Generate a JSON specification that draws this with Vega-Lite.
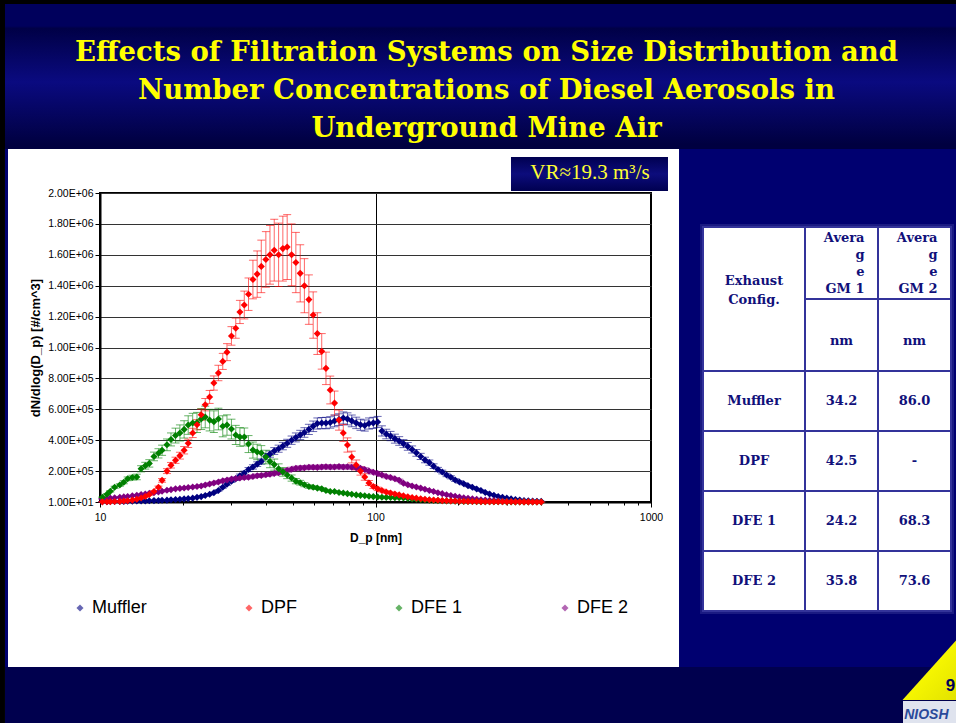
{
"$schema": "https://vega.github.io/schema/vega-lite/v6.json",
"width": 551,
"height": 309,
"autosize": {"type": "none"},
"padding": {"left": 100, "top": 193, "right": 305, "bottom": 221},
"background": "white",
"title": {
  "text": ["Effects of Filtration Systems on Size Distribution and", "Number Concentrations of Diesel Aerosols in", "Underground Mine Air"],
  "font": "DejaVu Serif", "fontSize": 27.5, "fontWeight": "bold", "color": "#ffff00",
  "lineHeight": 38, "anchor": "middle", "frame": "group", "dx": 111, "offset": -143
},
"config": {
  "font": "Liberation Sans",
  "view": {"stroke": "black", "strokeWidth": 2}
},
"resolve": {"scale": {"x": "independent", "y": "independent"}},
"layer": [
 {
  "data": {"values": [
{"s":"Muffler","d":10.2,"v":2000,"e":200},{"s":"Muffler","d":10.6,"v":2000,"e":200},{"s":"Muffler","d":10.9,"v":3000,"e":300},{"s":"Muffler","d":11.3,"v":3000,"e":300},{"s":"Muffler","d":11.8,"v":4000,"e":400},{"s":"Muffler","d":12.2,"v":4000,"e":400},{"s":"Muffler","d":12.6,"v":5000,"e":500},{"s":"Muffler","d":13.1,"v":5000,"e":500},{"s":"Muffler","d":13.6,"v":6000,"e":600},{"s":"Muffler","d":14.1,"v":6000,"e":600},{"s":"Muffler","d":14.6,"v":7000,"e":700},{"s":"Muffler","d":15.1,"v":8000,"e":800},{"s":"Muffler","d":15.7,"v":9000,"e":900},{"s":"Muffler","d":16.3,"v":10000,"e":1000},{"s":"Muffler","d":16.8,"v":11000,"e":1000},{"s":"Muffler","d":17.5,"v":12000,"e":1000},{"s":"Muffler","d":18.1,"v":14000,"e":1000},{"s":"Muffler","d":18.8,"v":16000,"e":1500},{"s":"Muffler","d":19.5,"v":18000,"e":1500},{"s":"Muffler","d":20.2,"v":20000,"e":2000},{"s":"Muffler","d":20.9,"v":22000,"e":2000},{"s":"Muffler","d":21.7,"v":25000,"e":2000},{"s":"Muffler","d":22.5,"v":30000,"e":2500},{"s":"Muffler","d":23.3,"v":35000,"e":3000},{"s":"Muffler","d":24.1,"v":42000,"e":3000},{"s":"Muffler","d":25.0,"v":50000,"e":4000},{"s":"Muffler","d":25.9,"v":60000,"e":4000},{"s":"Muffler","d":26.9,"v":75000,"e":5000},{"s":"Muffler","d":27.9,"v":95000,"e":6000},{"s":"Muffler","d":28.9,"v":115000,"e":7000},{"s":"Muffler","d":30.0,"v":135000,"e":9000},{"s":"Muffler","d":31.1,"v":150000,"e":10000},{"s":"Muffler","d":32.2,"v":170000,"e":11000},{"s":"Muffler","d":33.4,"v":188000,"e":12000},{"s":"Muffler","d":34.6,"v":210000,"e":13000},{"s":"Muffler","d":35.9,"v":227000,"e":14000},{"s":"Muffler","d":37.2,"v":245000,"e":15000},{"s":"Muffler","d":38.5,"v":262000,"e":17000},{"s":"Muffler","d":40.0,"v":295000,"e":19000},{"s":"Muffler","d":41.4,"v":310000,"e":20000},{"s":"Muffler","d":42.9,"v":330000,"e":22000},{"s":"Muffler","d":44.5,"v":345000,"e":23000},{"s":"Muffler","d":46.1,"v":362000,"e":24000},{"s":"Muffler","d":47.8,"v":380000,"e":26000},{"s":"Muffler","d":49.6,"v":400000,"e":27000},{"s":"Muffler","d":51.4,"v":418000,"e":29000},{"s":"Muffler","d":53.3,"v":434000,"e":30000},{"s":"Muffler","d":55.2,"v":450000,"e":31000},{"s":"Muffler","d":57.3,"v":470000,"e":33000},{"s":"Muffler","d":59.4,"v":490000,"e":34000},{"s":"Muffler","d":61.5,"v":508000,"e":36000},{"s":"Muffler","d":63.8,"v":511000,"e":36000},{"s":"Muffler","d":66.1,"v":511000,"e":37000},{"s":"Muffler","d":68.5,"v":515000,"e":37000},{"s":"Muffler","d":71.0,"v":525000,"e":38000},{"s":"Muffler","d":73.7,"v":533000,"e":38000},{"s":"Muffler","d":76.4,"v":544000,"e":39000},{"s":"Muffler","d":79.1,"v":538000,"e":39000},{"s":"Muffler","d":82.0,"v":525000,"e":38000},{"s":"Muffler","d":85.1,"v":512000,"e":37000},{"s":"Muffler","d":88.2,"v":500000,"e":36000},{"s":"Muffler","d":91.4,"v":495000,"e":36000},{"s":"Muffler","d":94.7,"v":508000,"e":36000},{"s":"Muffler","d":98.2,"v":512000,"e":36000},{"s":"Muffler","d":101.8,"v":518000,"e":36000},{"s":"Muffler","d":105.5,"v":460000,"e":33000},{"s":"Muffler","d":109.4,"v":440000,"e":31000},{"s":"Muffler","d":113.4,"v":427000,"e":30000},{"s":"Muffler","d":117.6,"v":410000,"e":29000},{"s":"Muffler","d":121.9,"v":395000,"e":28000},{"s":"Muffler","d":126.3,"v":378000,"e":26000},{"s":"Muffler","d":131.0,"v":360000,"e":25000},{"s":"Muffler","d":135.8,"v":340000,"e":23000},{"s":"Muffler","d":140.7,"v":318000,"e":22000},{"s":"Muffler","d":145.9,"v":295000,"e":20000},{"s":"Muffler","d":151.2,"v":272000,"e":18000},{"s":"Muffler","d":156.8,"v":255000,"e":17000},{"s":"Muffler","d":162.5,"v":232000,"e":15000},{"s":"Muffler","d":168.5,"v":210000,"e":14000},{"s":"Muffler","d":174.7,"v":194000,"e":12000},{"s":"Muffler","d":181.1,"v":175000,"e":11000},{"s":"Muffler","d":187.7,"v":160000,"e":10000},{"s":"Muffler","d":194.6,"v":142000,"e":9000},{"s":"Muffler","d":201.7,"v":130000,"e":8000},{"s":"Muffler","d":209.1,"v":118000,"e":7000},{"s":"Muffler","d":216.7,"v":105000,"e":6000},{"s":"Muffler","d":224.7,"v":95000,"e":5000},{"s":"Muffler","d":232.9,"v":84000,"e":5000},{"s":"Muffler","d":241.4,"v":74000,"e":4000},{"s":"Muffler","d":250.3,"v":62000,"e":4000},{"s":"Muffler","d":259.5,"v":52000,"e":3000},{"s":"Muffler","d":269.0,"v":44000,"e":3000},{"s":"Muffler","d":278.8,"v":36000,"e":2000},{"s":"Muffler","d":289.0,"v":30000,"e":2000},{"s":"Muffler","d":299.6,"v":25000,"e":1500},{"s":"Muffler","d":310.6,"v":20000,"e":1200},{"s":"Muffler","d":322.0,"v":16000,"e":1000},{"s":"Muffler","d":333.8,"v":13000,"e":800},{"s":"Muffler","d":346.0,"v":10000,"e":600},{"s":"Muffler","d":358.7,"v":8000,"e":500},{"s":"Muffler","d":371.8,"v":6000,"e":400},{"s":"Muffler","d":385.4,"v":5000,"e":300},{"s":"Muffler","d":399.5,"v":4000,"e":300},
{"s":"DFE 2","d":10.2,"v":20000,"e":1500},{"s":"DFE 2","d":10.6,"v":22000,"e":1500},{"s":"DFE 2","d":10.9,"v":25000,"e":2000},{"s":"DFE 2","d":11.3,"v":28000,"e":2000},{"s":"DFE 2","d":11.8,"v":30000,"e":2000},{"s":"DFE 2","d":12.2,"v":33000,"e":2000},{"s":"DFE 2","d":12.6,"v":36000,"e":2500},{"s":"DFE 2","d":13.1,"v":40000,"e":2500},{"s":"DFE 2","d":13.6,"v":44000,"e":3000},{"s":"DFE 2","d":14.1,"v":48000,"e":3000},{"s":"DFE 2","d":14.6,"v":52000,"e":3000},{"s":"DFE 2","d":15.1,"v":56000,"e":3500},{"s":"DFE 2","d":15.7,"v":60000,"e":4000},{"s":"DFE 2","d":16.3,"v":65000,"e":4000},{"s":"DFE 2","d":16.8,"v":70000,"e":4500},{"s":"DFE 2","d":17.5,"v":76000,"e":5000},{"s":"DFE 2","d":18.1,"v":80000,"e":5000},{"s":"DFE 2","d":18.8,"v":85000,"e":5000},{"s":"DFE 2","d":19.5,"v":88000,"e":5500},{"s":"DFE 2","d":20.2,"v":91000,"e":6000},{"s":"DFE 2","d":20.9,"v":94000,"e":6000},{"s":"DFE 2","d":21.7,"v":97000,"e":6000},{"s":"DFE 2","d":22.5,"v":100000,"e":6500},{"s":"DFE 2","d":23.3,"v":104000,"e":7000},{"s":"DFE 2","d":24.1,"v":110000,"e":7000},{"s":"DFE 2","d":25.0,"v":117000,"e":7500},{"s":"DFE 2","d":25.9,"v":123000,"e":8000},{"s":"DFE 2","d":26.9,"v":130000,"e":8000},{"s":"DFE 2","d":27.9,"v":137000,"e":9000},{"s":"DFE 2","d":28.9,"v":142000,"e":9000},{"s":"DFE 2","d":30.0,"v":148000,"e":9000},{"s":"DFE 2","d":31.1,"v":152000,"e":10000},{"s":"DFE 2","d":32.2,"v":155000,"e":10000},{"s":"DFE 2","d":33.4,"v":158000,"e":10000},{"s":"DFE 2","d":34.6,"v":160000,"e":10000},{"s":"DFE 2","d":35.9,"v":165000,"e":10000},{"s":"DFE 2","d":37.2,"v":170000,"e":11000},{"s":"DFE 2","d":38.5,"v":172000,"e":11000},{"s":"DFE 2","d":40.0,"v":176000,"e":11000},{"s":"DFE 2","d":41.4,"v":180000,"e":11000},{"s":"DFE 2","d":42.9,"v":185000,"e":12000},{"s":"DFE 2","d":44.5,"v":190000,"e":12000},{"s":"DFE 2","d":46.1,"v":197000,"e":12000},{"s":"DFE 2","d":47.8,"v":205000,"e":12000},{"s":"DFE 2","d":49.6,"v":212000,"e":13000},{"s":"DFE 2","d":51.4,"v":218000,"e":13000},{"s":"DFE 2","d":53.3,"v":220000,"e":13000},{"s":"DFE 2","d":55.2,"v":222000,"e":13000},{"s":"DFE 2","d":57.3,"v":225000,"e":13000},{"s":"DFE 2","d":59.4,"v":225000,"e":13000},{"s":"DFE 2","d":61.5,"v":224000,"e":13000},{"s":"DFE 2","d":63.8,"v":227000,"e":13000},{"s":"DFE 2","d":66.1,"v":228000,"e":13000},{"s":"DFE 2","d":68.5,"v":226000,"e":13000},{"s":"DFE 2","d":71.0,"v":227000,"e":13000},{"s":"DFE 2","d":73.7,"v":229000,"e":13000},{"s":"DFE 2","d":76.4,"v":226000,"e":13000},{"s":"DFE 2","d":79.1,"v":228000,"e":13000},{"s":"DFE 2","d":82.0,"v":225000,"e":13000},{"s":"DFE 2","d":85.1,"v":222000,"e":12000},{"s":"DFE 2","d":88.2,"v":218000,"e":12000},{"s":"DFE 2","d":91.4,"v":210000,"e":12000},{"s":"DFE 2","d":94.7,"v":200000,"e":11000},{"s":"DFE 2","d":98.2,"v":192000,"e":11000},{"s":"DFE 2","d":101.8,"v":185000,"e":10000},{"s":"DFE 2","d":105.5,"v":175000,"e":10000},{"s":"DFE 2","d":109.4,"v":165000,"e":9000},{"s":"DFE 2","d":113.4,"v":158000,"e":9000},{"s":"DFE 2","d":117.6,"v":150000,"e":8000},{"s":"DFE 2","d":121.9,"v":140000,"e":8000},{"s":"DFE 2","d":126.3,"v":122000,"e":7000},{"s":"DFE 2","d":131.0,"v":112000,"e":6000},{"s":"DFE 2","d":135.8,"v":104000,"e":6000},{"s":"DFE 2","d":140.7,"v":97000,"e":5000},{"s":"DFE 2","d":145.9,"v":90000,"e":5000},{"s":"DFE 2","d":151.2,"v":82000,"e":4500},{"s":"DFE 2","d":156.8,"v":75000,"e":4000},{"s":"DFE 2","d":162.5,"v":68000,"e":4000},{"s":"DFE 2","d":168.5,"v":60000,"e":3500},{"s":"DFE 2","d":174.7,"v":54000,"e":3000},{"s":"DFE 2","d":181.1,"v":47000,"e":3000},{"s":"DFE 2","d":187.7,"v":42000,"e":2500},{"s":"DFE 2","d":194.6,"v":37000,"e":2000},{"s":"DFE 2","d":201.7,"v":32000,"e":2000},{"s":"DFE 2","d":209.1,"v":28000,"e":1500},{"s":"DFE 2","d":216.7,"v":24000,"e":1500},{"s":"DFE 2","d":224.7,"v":21000,"e":1200},{"s":"DFE 2","d":232.9,"v":18000,"e":1000},{"s":"DFE 2","d":241.4,"v":15000,"e":1000},{"s":"DFE 2","d":250.3,"v":13000,"e":800},{"s":"DFE 2","d":259.5,"v":11000,"e":700},{"s":"DFE 2","d":269.0,"v":9000,"e":600},{"s":"DFE 2","d":278.8,"v":7500,"e":500},{"s":"DFE 2","d":289.0,"v":6000,"e":400},{"s":"DFE 2","d":299.6,"v":5000,"e":300},{"s":"DFE 2","d":310.6,"v":4000,"e":300},{"s":"DFE 2","d":322.0,"v":3500,"e":200},{"s":"DFE 2","d":333.8,"v":3000,"e":200},{"s":"DFE 2","d":346.0,"v":2500,"e":200},{"s":"DFE 2","d":358.7,"v":2000,"e":100},{"s":"DFE 2","d":371.8,"v":1800,"e":100},{"s":"DFE 2","d":385.4,"v":1500,"e":100},{"s":"DFE 2","d":399.5,"v":1200,"e":100},
{"s":"DFE 1","d":10.2,"v":30000,"e":3000},{"s":"DFE 1","d":10.6,"v":50000,"e":4000},{"s":"DFE 1","d":10.9,"v":70000,"e":5000},{"s":"DFE 1","d":11.3,"v":95000,"e":7000},{"s":"DFE 1","d":11.8,"v":110000,"e":8000},{"s":"DFE 1","d":12.2,"v":128000,"e":10000},{"s":"DFE 1","d":12.6,"v":150000,"e":12000},{"s":"DFE 1","d":13.1,"v":158000,"e":15000},{"s":"DFE 1","d":13.6,"v":162000,"e":18000},{"s":"DFE 1","d":14.1,"v":215000,"e":20000},{"s":"DFE 1","d":14.6,"v":235000,"e":22000},{"s":"DFE 1","d":15.1,"v":250000,"e":24000},{"s":"DFE 1","d":15.7,"v":295000,"e":28000},{"s":"DFE 1","d":16.3,"v":315000,"e":30000},{"s":"DFE 1","d":16.8,"v":335000,"e":33000},{"s":"DFE 1","d":17.5,"v":370000,"e":38000},{"s":"DFE 1","d":18.1,"v":405000,"e":42000},{"s":"DFE 1","d":18.8,"v":430000,"e":48000},{"s":"DFE 1","d":19.5,"v":447000,"e":52000},{"s":"DFE 1","d":20.2,"v":470000,"e":56000},{"s":"DFE 1","d":20.9,"v":498000,"e":60000},{"s":"DFE 1","d":21.7,"v":511000,"e":63000},{"s":"DFE 1","d":22.5,"v":515000,"e":65000},{"s":"DFE 1","d":23.3,"v":537000,"e":68000},{"s":"DFE 1","d":24.1,"v":550000,"e":70000},{"s":"DFE 1","d":25.0,"v":530000,"e":70000},{"s":"DFE 1","d":25.9,"v":520000,"e":70000},{"s":"DFE 1","d":26.9,"v":537000,"e":70000},{"s":"DFE 1","d":27.9,"v":490000,"e":68000},{"s":"DFE 1","d":28.9,"v":498000,"e":66000},{"s":"DFE 1","d":30.0,"v":472000,"e":64000},{"s":"DFE 1","d":31.1,"v":434000,"e":62000},{"s":"DFE 1","d":32.2,"v":421000,"e":60000},{"s":"DFE 1","d":33.4,"v":421000,"e":58000},{"s":"DFE 1","d":34.6,"v":375000,"e":55000},{"s":"DFE 1","d":35.9,"v":336000,"e":52000},{"s":"DFE 1","d":37.2,"v":324000,"e":50000},{"s":"DFE 1","d":38.5,"v":317000,"e":48000},{"s":"DFE 1","d":40.0,"v":291000,"e":44000},{"s":"DFE 1","d":41.4,"v":262000,"e":40000},{"s":"DFE 1","d":42.9,"v":242000,"e":36000},{"s":"DFE 1","d":44.5,"v":215000,"e":32000},{"s":"DFE 1","d":46.1,"v":195000,"e":28000},{"s":"DFE 1","d":47.8,"v":175000,"e":24000},{"s":"DFE 1","d":49.6,"v":155000,"e":20000},{"s":"DFE 1","d":51.4,"v":135000,"e":17000},{"s":"DFE 1","d":53.3,"v":125000,"e":15000},{"s":"DFE 1","d":55.2,"v":112000,"e":13000},{"s":"DFE 1","d":57.3,"v":100000,"e":11000},{"s":"DFE 1","d":59.4,"v":95000,"e":10000},{"s":"DFE 1","d":61.5,"v":90000,"e":9000},{"s":"DFE 1","d":63.8,"v":85000,"e":8000},{"s":"DFE 1","d":66.1,"v":75000,"e":7000},{"s":"DFE 1","d":68.5,"v":68000,"e":6000},{"s":"DFE 1","d":71.0,"v":68000,"e":6000},{"s":"DFE 1","d":73.7,"v":62000,"e":5000},{"s":"DFE 1","d":76.4,"v":58000,"e":5000},{"s":"DFE 1","d":79.1,"v":54000,"e":4500},{"s":"DFE 1","d":82.0,"v":50000,"e":4000},{"s":"DFE 1","d":85.1,"v":46000,"e":4000},{"s":"DFE 1","d":88.2,"v":43000,"e":3500},{"s":"DFE 1","d":91.4,"v":40000,"e":3000},{"s":"DFE 1","d":94.7,"v":37000,"e":3000},{"s":"DFE 1","d":98.2,"v":35000,"e":3000},{"s":"DFE 1","d":101.8,"v":33000,"e":2500},{"s":"DFE 1","d":105.5,"v":31000,"e":2500},{"s":"DFE 1","d":109.4,"v":30000,"e":2500},{"s":"DFE 1","d":113.4,"v":29000,"e":2500},{"s":"DFE 1","d":117.6,"v":28000,"e":2000},{"s":"DFE 1","d":121.9,"v":27000,"e":2000},{"s":"DFE 1","d":126.3,"v":26000,"e":2000},{"s":"DFE 1","d":131.0,"v":23000,"e":2000},{"s":"DFE 1","d":135.8,"v":20000,"e":1500},{"s":"DFE 1","d":140.7,"v":18000,"e":1500},{"s":"DFE 1","d":145.9,"v":15500,"e":1200},{"s":"DFE 1","d":151.2,"v":13000,"e":1000},{"s":"DFE 1","d":156.8,"v":12000,"e":1000},{"s":"DFE 1","d":162.5,"v":10000,"e":800},{"s":"DFE 1","d":168.5,"v":9000,"e":700},{"s":"DFE 1","d":174.7,"v":8000,"e":600},{"s":"DFE 1","d":181.1,"v":7000,"e":500},{"s":"DFE 1","d":187.7,"v":6000,"e":500},{"s":"DFE 1","d":194.6,"v":5000,"e":400},{"s":"DFE 1","d":201.7,"v":4500,"e":400},{"s":"DFE 1","d":209.1,"v":4000,"e":300},{"s":"DFE 1","d":216.7,"v":3500,"e":300},{"s":"DFE 1","d":224.7,"v":3000,"e":200},{"s":"DFE 1","d":232.9,"v":2600,"e":200},{"s":"DFE 1","d":241.4,"v":2300,"e":200},{"s":"DFE 1","d":250.3,"v":2000,"e":200},{"s":"DFE 1","d":259.5,"v":1800,"e":100},{"s":"DFE 1","d":269.0,"v":1500,"e":100},{"s":"DFE 1","d":278.8,"v":1300,"e":100},{"s":"DFE 1","d":289.0,"v":1100,"e":100},{"s":"DFE 1","d":299.6,"v":1000,"e":100},{"s":"DFE 1","d":310.6,"v":900,"e":100},{"s":"DFE 1","d":322.0,"v":800,"e":100},{"s":"DFE 1","d":333.8,"v":700,"e":100},{"s":"DFE 1","d":346.0,"v":600,"e":100},{"s":"DFE 1","d":358.7,"v":500,"e":100},{"s":"DFE 1","d":371.8,"v":450,"e":100},{"s":"DFE 1","d":385.4,"v":400,"e":100},{"s":"DFE 1","d":399.5,"v":350,"e":100},
{"s":"DPF","d":10.2,"v":1000,"e":200},{"s":"DPF","d":10.6,"v":1500,"e":300},{"s":"DPF","d":10.9,"v":2000,"e":400},{"s":"DPF","d":11.3,"v":3000,"e":500},{"s":"DPF","d":11.8,"v":4000,"e":600},{"s":"DPF","d":12.2,"v":6000,"e":800},{"s":"DPF","d":12.6,"v":8000,"e":1000},{"s":"DPF","d":13.1,"v":12000,"e":1500},{"s":"DPF","d":13.6,"v":18000,"e":2000},{"s":"DPF","d":14.1,"v":26000,"e":3000},{"s":"DPF","d":14.6,"v":36000,"e":4000},{"s":"DPF","d":15.1,"v":48000,"e":5000},{"s":"DPF","d":15.7,"v":68000,"e":6000},{"s":"DPF","d":16.3,"v":95000,"e":8000},{"s":"DPF","d":16.8,"v":140000,"e":12000},{"s":"DPF","d":17.5,"v":200000,"e":16000},{"s":"DPF","d":18.1,"v":238000,"e":18000},{"s":"DPF","d":18.8,"v":270000,"e":20000},{"s":"DPF","d":19.5,"v":300000,"e":22000},{"s":"DPF","d":20.2,"v":335000,"e":24000},{"s":"DPF","d":20.9,"v":380000,"e":27000},{"s":"DPF","d":21.7,"v":447000,"e":30000},{"s":"DPF","d":22.5,"v":500000,"e":33000},{"s":"DPF","d":23.3,"v":565000,"e":36000},{"s":"DPF","d":24.1,"v":630000,"e":40000},{"s":"DPF","d":25.0,"v":680000,"e":42000},{"s":"DPF","d":25.9,"v":770000,"e":46000},{"s":"DPF","d":26.9,"v":835000,"e":50000},{"s":"DPF","d":27.9,"v":910000,"e":52000},{"s":"DPF","d":28.9,"v":970000,"e":55000},{"s":"DPF","d":30.0,"v":1075000,"e":60000},{"s":"DPF","d":31.1,"v":1125000,"e":65000},{"s":"DPF","d":32.2,"v":1230000,"e":75000},{"s":"DPF","d":33.4,"v":1275000,"e":90000},{"s":"DPF","d":34.6,"v":1345000,"e":105000},{"s":"DPF","d":35.9,"v":1440000,"e":125000},{"s":"DPF","d":37.2,"v":1475000,"e":150000},{"s":"DPF","d":38.5,"v":1525000,"e":170000},{"s":"DPF","d":40.0,"v":1570000,"e":180000},{"s":"DPF","d":41.4,"v":1600000,"e":190000},{"s":"DPF","d":42.9,"v":1630000,"e":200000},{"s":"DPF","d":44.5,"v":1600000,"e":205000},{"s":"DPF","d":46.1,"v":1640000,"e":210000},{"s":"DPF","d":47.8,"v":1650000,"e":210000},{"s":"DPF","d":49.6,"v":1600000,"e":200000},{"s":"DPF","d":51.4,"v":1550000,"e":195000},{"s":"DPF","d":53.3,"v":1480000,"e":185000},{"s":"DPF","d":55.2,"v":1400000,"e":175000},{"s":"DPF","d":57.3,"v":1310000,"e":160000},{"s":"DPF","d":59.4,"v":1210000,"e":150000},{"s":"DPF","d":61.5,"v":1090000,"e":135000},{"s":"DPF","d":63.8,"v":975000,"e":115000},{"s":"DPF","d":66.1,"v":865000,"e":105000},{"s":"DPF","d":68.5,"v":725000,"e":90000},{"s":"DPF","d":71.0,"v":640000,"e":78000},{"s":"DPF","d":73.7,"v":530000,"e":65000},{"s":"DPF","d":76.4,"v":447000,"e":55000},{"s":"DPF","d":79.1,"v":369000,"e":46000},{"s":"DPF","d":82.0,"v":291000,"e":38000},{"s":"DPF","d":85.1,"v":240000,"e":32000},{"s":"DPF","d":88.2,"v":200000,"e":26000},{"s":"DPF","d":91.4,"v":162000,"e":21000},{"s":"DPF","d":94.7,"v":123000,"e":16000},{"s":"DPF","d":98.2,"v":100000,"e":13000},{"s":"DPF","d":101.8,"v":85000,"e":11000},{"s":"DPF","d":105.5,"v":74000,"e":9000},{"s":"DPF","d":109.4,"v":65000,"e":8000},{"s":"DPF","d":113.4,"v":58000,"e":7000},{"s":"DPF","d":117.6,"v":52000,"e":6000},{"s":"DPF","d":121.9,"v":46000,"e":5000},{"s":"DPF","d":126.3,"v":40000,"e":4500},{"s":"DPF","d":131.0,"v":34000,"e":4000},{"s":"DPF","d":135.8,"v":29000,"e":3500},{"s":"DPF","d":140.7,"v":25000,"e":3000},{"s":"DPF","d":145.9,"v":21000,"e":2500},{"s":"DPF","d":151.2,"v":18000,"e":2000},{"s":"DPF","d":156.8,"v":15000,"e":2000},{"s":"DPF","d":162.5,"v":13000,"e":1500},{"s":"DPF","d":168.5,"v":11000,"e":1300},{"s":"DPF","d":174.7,"v":9000,"e":1100},{"s":"DPF","d":181.1,"v":8000,"e":1000},{"s":"DPF","d":187.7,"v":7000,"e":900},{"s":"DPF","d":194.6,"v":6000,"e":800},{"s":"DPF","d":201.7,"v":5000,"e":700},{"s":"DPF","d":209.1,"v":4500,"e":600},{"s":"DPF","d":216.7,"v":4000,"e":500},{"s":"DPF","d":224.7,"v":3500,"e":500},{"s":"DPF","d":232.9,"v":3000,"e":400},{"s":"DPF","d":241.4,"v":2600,"e":400},{"s":"DPF","d":250.3,"v":2300,"e":300},{"s":"DPF","d":259.5,"v":2000,"e":300},{"s":"DPF","d":269.0,"v":1800,"e":300},{"s":"DPF","d":278.8,"v":1600,"e":200},{"s":"DPF","d":289.0,"v":1400,"e":200},{"s":"DPF","d":299.6,"v":1200,"e":200},{"s":"DPF","d":310.6,"v":1100,"e":200},{"s":"DPF","d":322.0,"v":1000,"e":100},{"s":"DPF","d":333.8,"v":900,"e":100},{"s":"DPF","d":346.0,"v":800,"e":100},{"s":"DPF","d":358.7,"v":700,"e":100},{"s":"DPF","d":371.8,"v":600,"e":100},{"s":"DPF","d":385.4,"v":500,"e":100},{"s":"DPF","d":399.5,"v":400,"e":100}
  ]},
  "layer": [
   {"data": {"values": [{}]}, "mark": {"type": "rect", "fill": {"gradient": "linear", "x1": 0, "y1": 0, "x2": 0, "y2": 1, "stops": [{"offset": 0, "color": "#000000"}, {"offset": 0.026, "color": "#000000"}, {"offset": 0.03, "color": "#00005c"}, {"offset": 0.175, "color": "#00005c"}, {"offset": 0.19, "color": "#000046"}, {"offset": 0.55, "color": "#0a0a80"}, {"offset": 0.97, "color": "#000040"}, {"offset": 1, "color": "#000040"}]}},
    "encoding": {"x": {"datum": 4, "type": "quantitative"}, "x2": {"datum": 20000}, "y": {"datum": 3249195, "type": "quantitative"}, "y2": {"datum": 2284793}}},
   {"data": {"values": [{}]}, "mark": {"type": "rect", "color": "#000070"},
    "encoding": {"x": {"datum": 1263.8, "type": "quantitative"}, "x2": {"datum": 20000}, "y": {"datum": 2284793, "type": "quantitative"}, "y2": {"datum": -1067963}}},
   {"data": {"values": [{}]}, "mark": {"type": "rect", "color": "#000070"},
    "encoding": {"x": {"datum": 4.52, "type": "quantitative"}, "x2": {"datum": 4.635}, "y": {"datum": 2284793, "type": "quantitative"}, "y2": {"datum": -1067963}}},
   {"data": {"values": [{}]}, "mark": {"type": "rect", "color": "#00004e"},
    "encoding": {"x": {"datum": 4.52, "type": "quantitative"}, "x2": {"datum": 20000}, "y": {"datum": -1067963, "type": "quantitative"}, "y2": {"datum": -1500000}}},
   {"data": {"values": [{}]}, "mark": {"type": "rect", "color": "#000000"},
    "encoding": {"x": {"datum": 4, "type": "quantitative"}, "x2": {"datum": 4.52}, "y": {"datum": 3249195, "type": "quantitative"}, "y2": {"datum": -1500000}}},
   {"data": {"values": [{}]}, "mark": {"type": "rect", "color": "#1a1a82"},
    "encoding": {"x": {"datum": 1506.3, "type": "quantitative"}, "x2": {"datum": 12584}, "y": {"datum": 1799355, "type": "quantitative"}, "y2": {"datum": -724920}}},
   {"data": {"values": [{}]}, "mark": {"type": "rect", "fill": {"gradient": "linear", "x1": 0, "y1": 0, "x2": 0, "y2": 1, "stops": [{"offset": 0, "color": "#000050"}, {"offset": 0.5, "color": "#0c0c7c"}, {"offset": 1, "color": "#000050"}]}},
    "encoding": {"x": {"datum": 310.3, "type": "quantitative"}, "x2": {"datum": 1152.6}, "y": {"datum": 2233013, "type": "quantitative"}, "y2": {"datum": 2012948}}},
   {"data": {"values": [{}]}, "mark": {"type": "text", "text": "VR≈19.3 m³/s", "font": "Liberation Serif", "fontSize": 21, "color": "#ffff33", "align": "center", "baseline": "alphabetic"},
    "encoding": {"x": {"datum": 600.6, "type": "quantitative"}, "y": {"datum": 2090618, "type": "quantitative"}}},
   {"data": {"values": [{}]}, "mark": {"type": "rect", "color": "#dfe3ee"},
    "encoding": {"x": {"datum": 8217, "type": "quantitative"}, "x2": {"datum": 20000}, "y": {"datum": -1288028, "type": "quantitative"}, "y2": {"datum": -1500000}}},
   {"data": {"values": [{}]}, "mark": {"type": "text", "text": "NIOSH", "font": "Liberation Sans", "fontSize": 14, "fontWeight": "bold", "fontStyle": "italic", "color": "#2a4a9a", "align": "left", "baseline": "alphabetic"},
    "encoding": {"x": {"datum": 8300, "type": "quantitative"}, "y": {"datum": -1404533, "type": "quantitative"}}},
   {"data": {"values": [{}]}, "mark": {"type": "point", "shape": "M -0.9 1 L 0.9 -1 L 0.9 1 Z", "size": 3600, "filled": true, "opacity": 1, "strokeWidth": 0, "fill": {"gradient": "linear", "x1": 0, "y1": 0, "x2": 1, "y2": 1, "stops": [{"offset": 0, "color": "#ffffc8"}, {"offset": 0.5, "color": "#f6f600"}, {"offset": 1, "color": "#e2e200"}]}},
    "encoding": {"x": {"datum": 10254, "type": "quantitative"}, "y": {"datum": -1087380, "type": "quantitative"}}},
   {"data": {"values": [{}]}, "mark": {"type": "text", "text": "9", "font": "Liberation Sans", "fontSize": 17, "fontWeight": "bold", "color": "#00005a", "align": "center", "baseline": "alphabetic"},
    "encoding": {"x": {"datum": 12221, "type": "quantitative"}, "y": {"datum": -1223303, "type": "quantitative"}}},
   {"mark": {"type": "errorbar", "ticks": true, "size": 8, "thickness": 1, "opacity": 0.6},
    "encoding": {
      "x": {"field": "d", "type": "quantitative", "title": "D_p [nm]"},
      "y": {"field": "v", "type": "quantitative", "title": "dN/dlog(D_p) [#/cm^3]"},
      "yError": {"field": "e"},
      "color": {"field": "s", "type": "nominal"}
    }},
   {"mark": {"type": "point", "shape": "diamond", "filled": true, "size": 50, "opacity": 1},
    "encoding": {
      "x": {"field": "d", "type": "quantitative", "title": "D_p [nm]", "scale": {"type": "log", "domain": [10, 1000], "nice": false},
        "axis": {"title": "D_p [nm]", "values": [10,20,30,40,50,60,70,80,90,100,200,300,400,500,600,700,800,900,1000], "tickCount": 40,
          "labelExpr": "(datum.value==10||datum.value==100||datum.value==1000)?''+datum.value:''",
          "tickSize": {"condition": {"test": "datum.value==10||datum.value==100||datum.value==1000", "value": 5}, "value": 3},
          "grid": true, "gridColor": "black", "gridWidth": 1,
          "gridOpacity": {"condition": {"test": "datum.value==100", "value": 1}, "value": 0},
          "domainColor": "black", "domainWidth": 2, "tickColor": "black",
          "labelFont": "Liberation Sans", "labelFontSize": 10.5, "labelColor": "black", "labelPadding": 5, "labelFlush": false, "labelOverlap": false,
          "titleFont": "Liberation Sans", "titleFontSize": 12, "titleFontWeight": "bold", "titleColor": "black", "titlePadding": 10}},
      "y": {"field": "v", "type": "quantitative", "title": "dN/dlog(D_p) [#/cm^3]", "scale": {"domain": [0, 2000000], "nice": false},
        "axis": {"title": "dN/dlog(D_p) [#/cm^3]", "values": [0,200000,400000,600000,800000,1000000,1200000,1400000,1600000,1800000,2000000], "tickCount": 30,
          "labelExpr": "datum.value==0?'1.00E+01':(datum.value<1000000?format(datum.value/100000,'.2f')+'E+05':format(datum.value/1000000,'.2f')+'E+06')",
          "tickSize": 5, "grid": true, "gridColor": "#333333", "gridWidth": 1,
          "domainColor": "black", "domainWidth": 2, "tickColor": "black",
          "labelFont": "Liberation Sans", "labelFontSize": 10.5, "labelColor": "black", "labelPadding": 2, "labelOverlap": false,
          "titleFont": "Liberation Sans", "titleFontSize": 13, "titleFontWeight": "bold", "titleColor": "black", "titlePadding": 5}},
      "color": {"field": "s", "type": "nominal",
        "scale": {"domain": ["Muffler", "DPF", "DFE 1", "DFE 2"], "range": ["#000080", "#ff0000", "#008000", "#800080"]},
        "legend": {"title": null, "orient": "none", "legendX": -29, "legendY": 406, "direction": "horizontal",
          "symbolType": "diamond", "symbolSize": 50, "symbolStrokeWidth": 0, "symbolOpacity": 1,
          "labelFont": "Liberation Sans", "labelFontSize": 18, "labelColor": "black", "labelOffset": 3,
          "columnPadding": 93, "gridAlign": "none", "padding": 0}}
    }}
  ]
 },
 {
  "data": {"values": [{"row": "head", "col": "cfg", "t": "Exhaust\nConfig."}]},
  "encoding": {
    "x": {"field": "col", "type": "nominal", "axis": null, "scale": {"domain": ["cfg"], "range": [603, 705], "paddingInner": 0, "paddingOuter": 0}},
    "y": {"field": "row", "type": "nominal", "axis": null, "scale": {"domain": ["head"], "range": [34, 178], "paddingInner": 0, "paddingOuter": 0}}
  },
  "layer": [
    {"mark": {"type": "rect", "fill": "white", "stroke": "#33339a", "strokeWidth": 2}},
    {"mark": {"type": "text", "font": "DejaVu Serif", "fontSize": 13, "fontWeight": "bold", "color": "#10107a", "lineBreak": "\n", "lineHeight": 19, "dy": -18},
     "encoding": {"text": {"field": "t"}}}
  ]
 },
 {
  "data": {"values": [
    {"row": "head", "col": "gm1", "t": "Avera\ng\ne\nGM 1"},
    {"row": "head", "col": "gm2", "t": "Avera\ng\ne\nGM 2"},
    {"row": "unit", "col": "gm1", "t": "nm"},
    {"row": "unit", "col": "gm2", "t": "nm"}
  ]},
  "encoding": {
    "x": {"field": "col", "type": "nominal", "axis": null, "scale": {"domain": ["gm1", "gm2"], "range": [705, 851], "paddingInner": 0, "paddingOuter": 0}},
    "y": {"field": "row", "type": "nominal", "axis": null, "scale": {"domain": ["head", "unit"], "range": [34, 178], "paddingInner": 0, "paddingOuter": 0}}
  },
  "layer": [
    {"mark": {"type": "rect", "fill": "white", "stroke": "#33339a", "strokeWidth": 2}},
    {"transform": [{"filter": "datum.row=='head'"}],
     "mark": {"type": "text", "font": "DejaVu Serif", "fontSize": 13, "fontWeight": "bold", "color": "#10107a", "lineBreak": "\n", "lineHeight": 17, "align": "right", "dx": 23, "dy": -25},
     "encoding": {"text": {"field": "t"}}},
    {"transform": [{"filter": "datum.row=='unit'"}],
     "mark": {"type": "text", "font": "DejaVu Serif", "fontSize": 13, "fontWeight": "bold", "color": "#10107a", "dy": 6},
     "encoding": {"text": {"field": "t"}}}
  ]
 },
 {
  "data": {"values": [
    {"row": "Muffler", "col": "cfg", "t": "Muffler"},
    {"row": "DPF", "col": "cfg", "t": "DPF"},
    {"row": "DFE 1", "col": "cfg", "t": "DFE 1"},
    {"row": "DFE 2", "col": "cfg", "t": "DFE 2"}
  ]},
  "encoding": {
    "x": {"field": "col", "type": "nominal", "axis": null, "scale": {"domain": ["cfg"], "range": [603, 705], "paddingInner": 0, "paddingOuter": 0}},
    "y": {"field": "row", "type": "nominal", "axis": null, "scale": {"domain": ["Muffler", "DPF", "DFE 1", "DFE 2"], "range": [178, 418], "paddingInner": 0, "paddingOuter": 0}}
  },
  "layer": [
    {"mark": {"type": "rect", "fill": "white", "stroke": "#33339a", "strokeWidth": 2}},
    {"mark": {"type": "text", "font": "DejaVu Serif", "fontSize": 13, "fontWeight": "bold", "color": "#10107a"},
     "encoding": {"text": {"field": "t"}}}
  ]
 },
 {
  "data": {"values": [
    {"row": "Muffler", "col": "gm1", "t": "34.2"}, {"row": "Muffler", "col": "gm2", "t": "86.0"},
    {"row": "DPF", "col": "gm1", "t": "42.5"}, {"row": "DPF", "col": "gm2", "t": "-"},
    {"row": "DFE 1", "col": "gm1", "t": "24.2"}, {"row": "DFE 1", "col": "gm2", "t": "68.3"},
    {"row": "DFE 2", "col": "gm1", "t": "35.8"}, {"row": "DFE 2", "col": "gm2", "t": "73.6"}
  ]},
  "encoding": {
    "x": {"field": "col", "type": "nominal", "axis": null, "scale": {"domain": ["gm1", "gm2"], "range": [705, 851], "paddingInner": 0, "paddingOuter": 0}},
    "y": {"field": "row", "type": "nominal", "axis": null, "scale": {"domain": ["Muffler", "DPF", "DFE 1", "DFE 2"], "range": [178, 418], "paddingInner": 0, "paddingOuter": 0}}
  },
  "layer": [
    {"mark": {"type": "rect", "fill": "white", "stroke": "#33339a", "strokeWidth": 2}},
    {"mark": {"type": "text", "font": "DejaVu Serif", "fontSize": 13, "fontWeight": "bold", "color": "#10107a"},
     "encoding": {"text": {"field": "t"}}}
  ]
 }
]
}
